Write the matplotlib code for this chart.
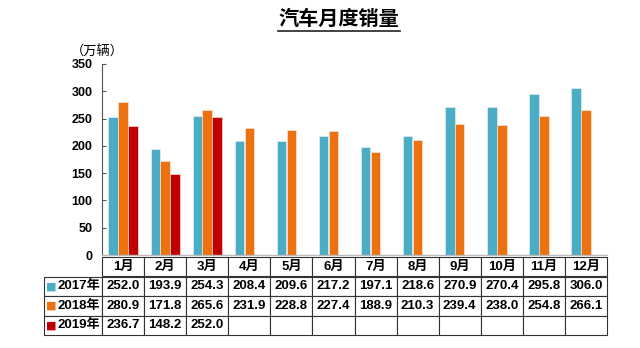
import matplotlib.pyplot as plt
import numpy as np

plt.rcParams['font.family'] = ['Liberation Sans', 'Noto Sans CJK SC']

# data
months = ['1月', '2月', '3月', '4月', '5月', '6月', '7月', '8月', '9月', '10月', '11月', '12月']
years = ['2017年', '2018年', '2019年']
sales_2017 = [252.0, 193.9, 254.3, 208.4, 209.6, 217.2, 197.1, 218.6, 270.9, 270.4, 295.8, 306.0]
sales_2018 = [280.9, 171.8, 265.6, 231.9, 228.8, 227.4, 188.9, 210.3, 239.4, 238.0, 254.8, 266.1]
sales_2019 = [236.7, 148.2, 252.0]
colors = ['#4bacc6', '#ec7110', '#c00000']

fig = plt.figure(figsize=(6.4, 3.48), dpi=100)
ax = fig.add_axes([102 / 640, 1 - 255 / 348, 505 / 640, 191 / 348])

series = [sales_2017, sales_2018, sales_2019]
w = 0.225
for i, (vals, c) in enumerate(zip(series, colors)):
    x = np.arange(len(vals)) + (i - 1) * 0.235
    ax.bar(x, vals, width=w, color=c, edgecolor='#f2f2f2', linewidth=0.4)

ax.set_xlim(-0.5, 11.5)
ax.set_ylim(0, 350)
ax.set_yticks(range(0, 351, 50))
ax.set_xticks([])
for lab in ax.get_yticklabels():
    lab.set_fontweight('bold')
    lab.set_fontsize(9)
ax.tick_params(axis='y', direction='in', length=3, width=0.8, color='#555555', pad=7)
for s in ['top', 'right']:
    ax.spines[s].set_visible(False)
ax.spines['left'].set_color('#555555')
ax.spines['left'].set_linewidth(0.8)
ax.spines['bottom'].set_color('#bbbbbb')
ax.spines['bottom'].set_linewidth(1.0)

# table below the bars
cells = [[''] + months]
for name, vals in zip(years, series):
    row = [name] + ['%.1f' % v for v in vals] + [''] * (12 - len(vals))
    cells.append(row)

ax_w = 505
x0 = (44 - 102) / ax_w
tbl = ax.table(cellText=cells, cellLoc='center',
               bbox=[x0, (255 - 335) / 191, 1 - x0, (335 - 257) / 191])
tbl.auto_set_font_size(False)
tot = 58 + 12 * 42
for (r, c), cell in tbl.get_celld().items():
    cell.set_width((58 if c == 0 else 42) / tot)
    cell.set_linewidth(0.8)
    cell.set_edgecolor('#333333')
    cell.get_text().set_fontsize(9.5)
    cell.get_text().set_fontweight('bold')
    if c == 0 and r > 0:
        cell.get_text().set_ha('right')
        cell._loc = 'right'
        cell.PAD = 0.03
tbl[0, 0].visible_edges = ''

for i, c in enumerate(colors):
    yc = (255 - (286.5 + i * 19.5)) / 191
    ax.text((51 - 102) / ax_w, yc, '■', color=c, fontsize=8, ha='center', va='center',
            transform=ax.transAxes, family=['DejaVu Sans'])

# title and unit
fig.text(339 / 640, 1 - 19.5 / 348, '汽车月度销量', ha='center', va='center',
         fontsize=14.5, fontweight='bold')
fig.add_artist(plt.Line2D([278 / 640, 400 / 640], [1 - 31 / 348, 1 - 31 / 348],
                          color='#222222', linewidth=1.2, transform=fig.transFigure))
fig.text(97 / 640, 1 - 52 / 348, '（万辆）', ha='center', va='center', fontsize=9.5,
         family=['Noto Sans CJK SC'])

fig.savefig('out.png', dpi=100)
